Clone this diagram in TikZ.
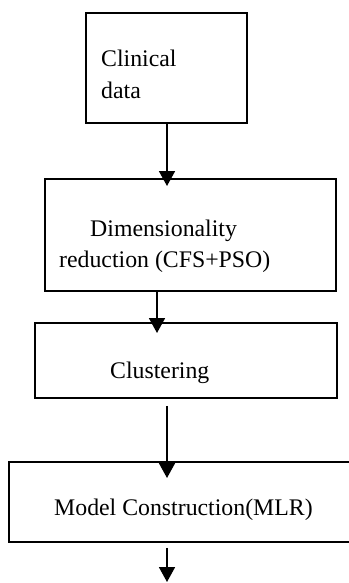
\documentclass[tikz,border=0pt]{standalone}
\usepackage{fontspec}
\setmainfont{Liberation Serif}
\usetikzlibrary{arrows.meta}
\tikzset{
  box/.style={draw=black, line width=1.8pt, fill=none, inner sep=0pt},
  lbl/.style={anchor=base west, inner sep=0pt, font=\fontsize{23.8}{31.5}\selectfont},
  arr/.style={line width=1.8pt, -{Triangle[width=16pt,length=15pt]}}
}
\begin{document}
\begin{tikzpicture}[x=1pt,y=-1pt]
\useasboundingbox (0,0) rectangle (348,583);
% boxes
\node[box, minimum width=161pt, minimum height=110pt] (b1) at (166.5,68) {};
\node[box, minimum width=291pt, minimum height=112pt] (b2) at (190.5,235) {};
\node[box, minimum width=302pt, minimum height=75pt] (b3) at (186,360.5) {};
\node[box, minimum width=341pt, minimum height=80pt] (b4) at (179.5,502) {};
% texts
\node[lbl] (t1a) at (101,67) {Clinical};
\node[lbl] (t1b) at (101,99) {data};
\node[lbl] (t2a) at (90,236) {Dimensionality};
\node[lbl] (t2b) at (59,267) {reduction (CFS+PSO)};
\node[lbl] (t3) at (110,378) {Clustering};
\node[lbl] (t4) at (54,515) {Model Construction(MLR)};
% arrows
\coordinate (e1) at (167,186);
\coordinate (e2) at (157,333);
\coordinate (e3) at (167,478);
\coordinate (e4) at (167,582);
\draw[arr] (b1.south -| e1) -- (e1);
\draw[arr] (b2.south -| e2) -- (e2);
\draw[arr] ([yshift=-7pt]b3.south -| e3) -- (e3);
\draw[arr] ([yshift=-5pt]b4.south -| e4) -- (e4);
\end{tikzpicture}
\end{document}
